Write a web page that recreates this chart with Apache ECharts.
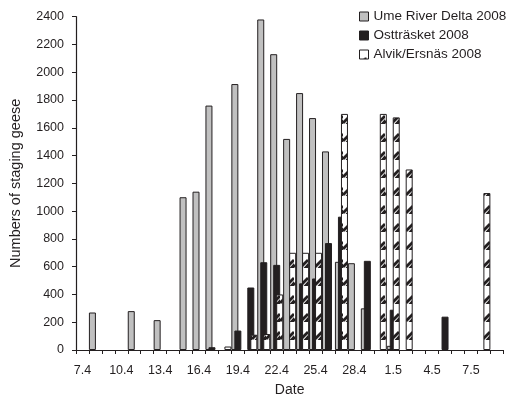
<!DOCTYPE html>
<html>
<head>
<meta charset="utf-8">
<script src="https://cdn.jsdelivr.net/npm/echarts@6/dist/echarts.min.js"></script>
<style>
  html, body { margin: 0; padding: 0; background: #fff; }
  #chart { width: 509px; height: 402px; }
</style>
</head>
<body>
<div id="chart"></div>
<script>
// Daily dates, 7 April – 9 May 2008
const dates = ['7.4','8.4','9.4','10.4','11.4','12.4','13.4','14.4','15.4','16.4','17.4','18.4',
  '19.4','20.4','21.4','22.4','23.4','24.4','25.4','26.4','27.4','28.4','29.4','30.4',
  '1.5','2.5','3.5','4.5','5.5','6.5','7.5','8.5','9.5'];

// Numbers of staging geese counted per site (null = no count)
const umeRiverDelta = [null,270,null,null,280,null,215,null,1100,1140,1760,null,
  1915,null,2380,2130,1520,1850,1670,1430,635,625,300,null,
  30,null,null,null,null,null,null,null,null];
const osttrasket = [null,null,null,null,null,null,null,null,null,null,20,null,
  140,450,632,613,null,480,515,770,960,null,642,null,
  290,null,null,null,240,null,null,null,null];
const alvikErsnas = [null,null,null,null,null,null,null,null,null,null,null,25,
  null,110,115,400,700,700,700,null,1700,null,null,1700,
  1675,1300,null,null,null,null,null,1130,null];

const seriesNames = ['Ume River Delta 2008', 'Ostträsket 2008', 'Alvik/Ersnäs 2008'];

// Hatch tile: white ground with bold black diagonal strokes
function makeHatch() {
  const c = document.createElement('canvas');
  c.width = 7; c.height = 18;
  const g = c.getContext('2d');
  g.fillStyle = '#ffffff';
  g.fillRect(0, 0, 7, 18);
  g.strokeStyle = '#231f20';
  g.lineWidth = 2.8;
  g.beginPath();
  g.moveTo(0, 15);
  g.lineTo(7, 8);
  g.stroke();
  g.fillStyle = '#231f20';
  g.beginPath();
  g.moveTo(2.5, 16);
  g.lineTo(7, 11);
  g.lineTo(7, 16);
  g.closePath();
  g.fill();
  return c;
}

const textColor = '#231f20';
const font = 'Liberation Sans, Arial, sans-serif';

const chart = echarts.init(document.getElementById('chart'), null, { renderer: 'canvas' });

const barBase = {
  type: 'bar',
  barWidth: 7,
  barGap: '-57%',
  animation: false
};

chart.setOption({
  backgroundColor: '#ffffff',
  animation: false,
  grid: { left: 70.7, right: 5.7, top: 16.7, bottom: 48.7, containLabel: false },
  legend: {
    orient: 'vertical',
    left: 354,
    top: 4,
    itemWidth: 9,
    itemHeight: 9,
    itemGap: 4,
    icon: 'rect',
    textStyle: { fontFamily: font, fontSize: 13.5, color: textColor, lineHeight: 15 },
    itemStyle: { borderColor: '#231f20', borderWidth: 1 },
    data: seriesNames
  },
  xAxis: {
    type: 'category',
    data: dates,
    boundaryGap: true,
    name: 'Date',
    nameLocation: 'middle',
    nameGap: 33,
    nameTextStyle: { fontFamily: font, fontSize: 14, color: textColor },
    axisLine: { lineStyle: { color: '#231f20', width: 1.2 } },
    axisTick: { show: true, interval: 0, length: 4, lineStyle: { color: '#231f20' } },
    axisLabel: { interval: 2, margin: 14, fontFamily: font, fontSize: 12.5, color: textColor },
    splitLine: { show: false }
  },
  yAxis: {
    type: 'value',
    min: 0,
    max: 2400,
    interval: 200,
    name: 'Numbers of staging geese',
    nameLocation: 'middle',
    nameGap: 53,
    nameTextStyle: { fontFamily: font, fontSize: 14.5, color: textColor },
    axisLine: { show: true, lineStyle: { color: '#231f20', width: 1.2 } },
    axisTick: { show: true, length: 4, lineStyle: { color: '#231f20' } },
    axisLabel: {
      margin: 12, fontFamily: font, fontSize: 12.5, color: textColor,
      formatter: function (v) { return String(v); }
    },
    splitLine: { show: false }
  },
  series: [
    Object.assign({}, barBase, {
      name: seriesNames[0],
      data: umeRiverDelta,
      itemStyle: { color: '#c0c0c0', borderColor: '#231f20', borderWidth: 1 }
    }),
    Object.assign({}, barBase, {
      name: seriesNames[1],
      data: osttrasket,
      itemStyle: { color: '#231f20', borderColor: '#231f20', borderWidth: 1 }
    }),
    Object.assign({}, barBase, {
      name: seriesNames[2],
      data: alvikErsnas,
      itemStyle: {
        color: { image: makeHatch(), repeat: 'repeat' },
        borderColor: '#231f20',
        borderWidth: 1
      }
    })
  ]
});
</script>
</body>
</html>
